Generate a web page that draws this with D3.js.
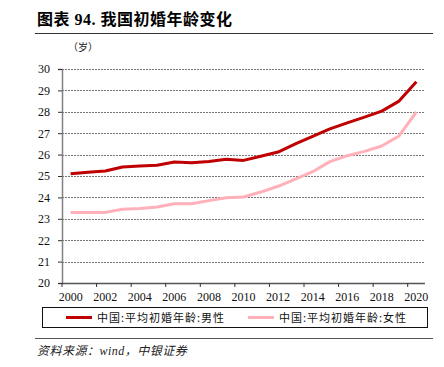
<!DOCTYPE html>
<html>
<head>
<meta charset="utf-8">
<script src="https://cdn.jsdelivr.net/npm/d3@7"></script>
<style>
  body { margin: 0; background: #fff; }
  svg { display: block; }
</style>
</head>
<body>
<div id="chart"></div>
<script>
// Data.
var years = d3.range(2000, 2021);
var maleAge = [25.1, 25.17, 25.23, 25.42, 25.47, 25.5, 25.65, 25.62, 25.68, 25.78, 25.73,
	25.92, 26.12, 26.5, 26.85, 27.2, 27.48, 27.75, 28.03, 28.5, 29.4];
var femaleAge = [23.3, 23.3, 23.3, 23.45, 23.48, 23.55, 23.7, 23.7, 23.85, 23.98, 24.02,
	24.25, 24.52, 24.85, 25.2, 25.67, 25.95, 26.15, 26.4, 26.87, 28.0];
var yTicks = [20, 21, 22, 23, 24, 25, 26, 27, 28, 29, 30];
var seriesNames = ["中国:平均初婚年龄:男性", "中国:平均初婚年龄:女性"];
var seriesColors = ["#c00000", "#ffb0b8"];

var width = 444,
	height = 367,
	margin = { top: 69, right: 19, bottom: 84, left: 62 };

var svg = d3.select("#chart").append("svg")
	.attr("width", width)
	.attr("height", height);

var serif = "'Liberation Serif', 'Times New Roman', serif";
var cjk = "'Noto Sans CJK SC', sans-serif";

// Title and rules
svg.append("text")
	.attr("x", 37)
	.attr("y", 25)
	.style("font-family", serif + ", " + cjk)
	.style("font-size", "16px")
	.style("font-weight", "bold")
	.style("letter-spacing", "0.5px")
	.text("图表 94. 我国初婚年龄变化");

svg.append("line")
	.attr("x1", 35).attr("x2", 433)
	.attr("y1", 33.5).attr("y2", 33.5)
	.attr("stroke", "#333").attr("stroke-width", 1);

svg.append("text")
	.attr("x", 68)
	.attr("y", 51)
	.style("font-family", cjk)
	.style("font-size", "10px")
	.attr("fill", "#222")
	.text("（岁）");

var x = d3.scaleBand()
	.domain(years)
	.range([margin.left, width - margin.right]);

var y = d3.scaleLinear()
	.domain([20, 30])
	.range([height - margin.bottom, margin.top]);

// Grid lines
svg.append("g")
	.selectAll("line")
	.data(yTicks.filter(function (d) { return d > 20; }))
	.enter().append("line")
	.attr("x1", margin.left)
	.attr("x2", width - margin.right)
	.attr("y1", function (d) { return Math.round(y(d)) + 0.5; })
	.attr("y2", function (d) { return Math.round(y(d)) + 0.5; })
	.attr("stroke", "#777")
	.attr("stroke-width", 1)
	.attr("stroke-dasharray", "2,1");

// Y axis
var yAxis = svg.append("g")
	.attr("transform", "translate(" + margin.left + ",0)")
	.call(d3.axisLeft(y).tickValues(yTicks).tickSize(4).tickPadding(8));
yAxis.select(".domain").attr("stroke", "#808080").attr("stroke-width", 1.5);
yAxis.selectAll(".tick line").attr("stroke", "#333");
yAxis.selectAll("text")
	.style("font-family", serif)
	.style("font-size", "12px")
	.attr("fill", "#111");

// X axis: ticks on category boundaries every 2 years, labels on even years
var xAxis = svg.append("g")
	.attr("transform", "translate(0," + (height - margin.bottom) + ")");
xAxis.append("line")
	.attr("x1", margin.left).attr("x2", width - margin.right)
	.attr("y1", 0.5).attr("y2", 0.5)
	.attr("stroke", "#555").attr("stroke-width", 1.5);
var evenYears = years.filter(function (d) { return d % 2 === 0; });
xAxis.selectAll(".xt")
	.data(evenYears)
	.enter().append("line")
	.attr("class", "xt")
	.attr("x1", function (d) { return x(d); })
	.attr("x2", function (d) { return x(d); })
	.attr("y1", 0).attr("y2", 4)
	.attr("stroke", "#333");
xAxis.selectAll(".xl")
	.data(evenYears)
	.enter().append("text")
	.attr("class", "xl")
	.attr("x", function (d) { return x(d) + x.bandwidth() / 2; })
	.attr("y", 18)
	.attr("text-anchor", "middle")
	.style("font-family", serif)
	.style("font-size", "12px")
	.attr("fill", "#111")
	.text(function (d) { return d; });

// Lines
var line = d3.line()
	.x(function (d, i) { return x(years[i]) + x.bandwidth() / 2; })
	.y(function (d) { return y(d); });

[femaleAge, maleAge].forEach(function (s, k) {
	svg.append("path")
		.datum(s)
		.attr("fill", "none")
		.attr("stroke", seriesColors[1 - k])
		.attr("stroke-width", 3)
		.attr("stroke-linejoin", "round")
		.attr("d", line);
});

// Legend
svg.append("rect")
	.attr("x", 42.5).attr("y", 307.5)
	.attr("width", 385).attr("height", 20)
	.attr("fill", "none")
	.attr("stroke", "#111").attr("stroke-width", 1);

var legendX = [66, 248];
seriesNames.forEach(function (name, k) {
	svg.append("line")
		.attr("x1", legendX[k]).attr("x2", legendX[k] + 26)
		.attr("y1", 317.5).attr("y2", 317.5)
		.attr("stroke", seriesColors[k])
		.attr("stroke-width", 3);
	svg.append("text")
		.attr("x", legendX[k] + 31)
		.attr("y", 321.5)
		.style("font-family", cjk)
		.style("font-size", "11px")
		.style("letter-spacing", "1px")
		.attr("fill", "#111")
		.text(name);
});

// Bottom rule and source
svg.append("line")
	.attr("x1", 35).attr("x2", 433)
	.attr("y1", 338.5).attr("y2", 338.5)
	.attr("stroke", "#555").attr("stroke-width", 1);

svg.append("text")
	.attr("x", 37)
	.attr("y", 355)
	.style("font-family", serif + ", " + cjk)
	.style("font-size", "12px")
	.style("font-style", "italic")
	.style("letter-spacing", "0.5px")
	.attr("fill", "#222")
	.text("资料来源：wind，中银证券");
</script>
</body>
</html>
